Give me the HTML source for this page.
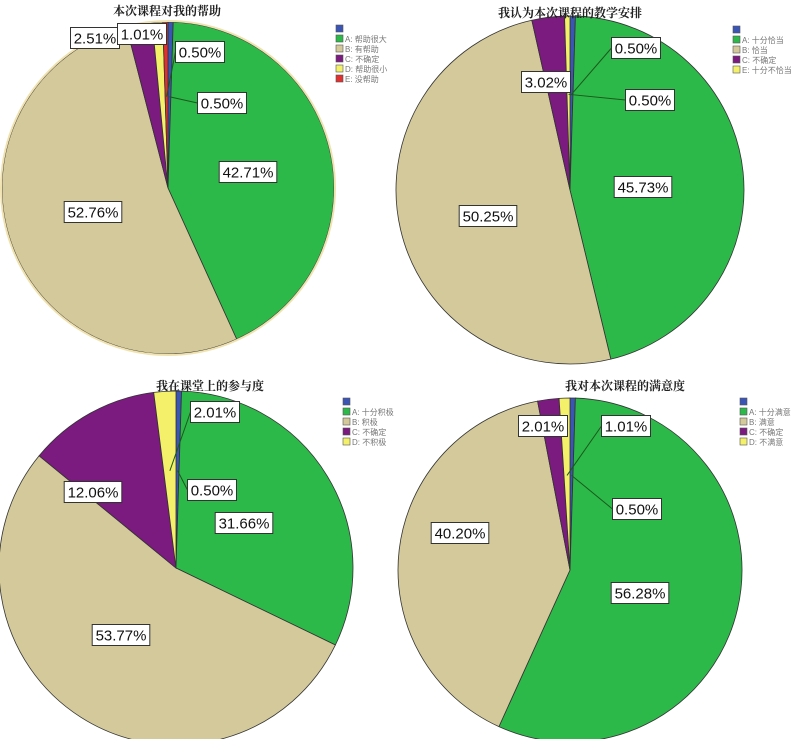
<!DOCTYPE html>
<html><head><meta charset="utf-8">
<style>
body{margin:0;background:#fff;}
svg{display:block;font-family:"Liberation Sans","Noto Sans CJK SC",sans-serif;}
.t{font-family:"Liberation Serif","Noto Serif CJK SC",serif;font-weight:bold;font-size:12px;fill:#222;}
.lg{font-family:"Liberation Sans","Noto Sans CJK SC",sans-serif;font-size:8px;fill:#777;}
.lb{font-size:15px;fill:#111;}
</style></head>
<body>
<svg id="c" width="810" height="739"></svg>
<script>
const colors = ["#3a55b4","#2db84a","#d4c99a","#7b1a7f","#f5f06a","#e03030"];
const titles = ["本次课程对我的帮助","我认为本次课程的教学安排","我在课堂上的参与度","我对本次课程的满意度"];
const cats1 = ["","A: 帮助很大","B: 有帮助","C: 不确定","D: 帮助很小","E: 没帮助"];
const cats2 = ["","A: 十分恰当","B: 恰当","C: 不确定","E: 十分不恰当"];
const cats3 = ["","A: 十分积极","B: 积极","C: 不确定","D: 不积极"];
const cats4 = ["","A: 十分满意","B: 满意","C: 不确定","D: 不满意"];
const vals1 = [0.50,42.71,52.76,2.51,1.01,0.50];
const vals2 = [0.50,45.73,50.25,3.02,0.50];
const vals3 = [0.50,31.66,53.77,12.06,2.01];
const vals4 = [0.50,56.28,40.20,2.01,1.01];
const labelText1 = ["0.50%","42.71%","52.76%","2.51%","1.01%","0.50%"];
const labelText2 = ["0.50%","45.73%","50.25%","3.02%","0.50%"];
const labelText3 = ["0.50%","31.66%","53.77%","12.06%","2.01%"];
const labelText4 = ["0.50%","56.28%","40.20%","2.01%","1.01%"];

const layout = [
 {cx:168,cy:188,r:166,tx:167,ty:15,lx:336,ly:25,border:true,
  lab:[[222,103,true],[248,172,false],[93,212,false],[95,38,false],[142,34,false],[200,52,true]]},
 {cx:570,cy:190,r:174,tx:570,ty:17,lx:733,ly:26,
  lab:[[636,48,true],[643,187,false],[488,216,false],[546,82,false],[650,100,true]]},
 {cx:176,cy:568,r:177,tx:210,ty:390,lx:343,ly:398,
  lab:[[212,490,true],[244,523,false],[121,635,false],[93,492,false],[215,412,true]]},
 {cx:570,cy:570,r:172,tx:625,ty:390,lx:740,ly:398,
  lab:[[637,509,true],[640,593,false],[460,533,false],[543,426,false],[626,426,true]]}
];
const allVals=[vals1,vals2,vals3,vals4], allCats=[cats1,cats2,cats3,cats4], allLabels=[labelText1,labelText2,labelText3,labelText4];
const svg=document.getElementById('c'), NS="http://www.w3.org/2000/svg";
function mk(tag,attrs,parent){const e=document.createElementNS(NS,tag);for(const k in attrs)e.setAttribute(k,attrs[k]);(parent||svg).appendChild(e);return e;}
function angle(frac){return frac*2*Math.PI;}
function pt(L,a,rr){return [L.cx+rr*Math.sin(a),L.cy-rr*Math.cos(a)];}
allVals.forEach((vals,ci)=>{
 const L=layout[ci];
 const g=mk('g',{});
 
 
 const total=vals.reduce((a,b)=>a+b,0);
 let acc=0; const mids=[];
 vals.forEach((v,i)=>{
  const a0=angle(acc/total), a1=angle((acc+v)/total); acc+=v; mids.push((a0+a1)/2);
  const p0=pt(L,a0,L.r), p1=pt(L,a1,L.r);
  const large=(a1-a0)>Math.PI?1:0;
  const p=mk('path',{d:`M${L.cx},${L.cy} L${p0[0]},${p0[1]} A${L.r},${L.r} 0 ${large} 1 ${p1[0]},${p1[1]} Z`,fill:colors[i],stroke:'#333','stroke-width':0.8},g);
  
  
 });
 if(L.border) mk('circle',{cx:L.cx,cy:L.cy,r:L.r+1,fill:'none',stroke:'#f0e2b0','stroke-width':2},g);
 const t=mk('text',{x:L.tx,y:L.ty,'text-anchor':'middle',class:'t'},g);
 t.textContent=titles[ci];
 
 
 // legend
 allCats[ci].forEach((c,i)=>{
  const y=L.ly+i*10;
  const r=mk('rect',{x:L.lx,y:y,width:7,height:7,fill:colors[i],stroke:'#555','stroke-width':0.6},g);
  
  
  const tx=mk('text',{x:L.lx+9,y:y+7,class:'lg'},g);
  tx.textContent=c;
  
  
 });
 // labels
 allLabels[ci].forEach((s,i)=>{
  const [x,y,lead]=L.lab[i];
  const w=s.length*8.6+6, h=21;
  if(lead){const e=pt(L,mids[i],L.r*0.55);mk('line',{x1:x-w/2,y1:y,x2:e[0],y2:e[1],stroke:'#1a5a1a','stroke-width':1},g);}
  const b=mk('rect',{x:x-w/2,y:y-h/2,width:w,height:h,fill:'#fff',stroke:'#333','stroke-width':1},g);
  
  
  const tx=mk('text',{x:x,y:y+5.5,'text-anchor':'middle',class:'lb'},g);
  tx.textContent=s;
  
  
 });
});
</script>
</body></html>
